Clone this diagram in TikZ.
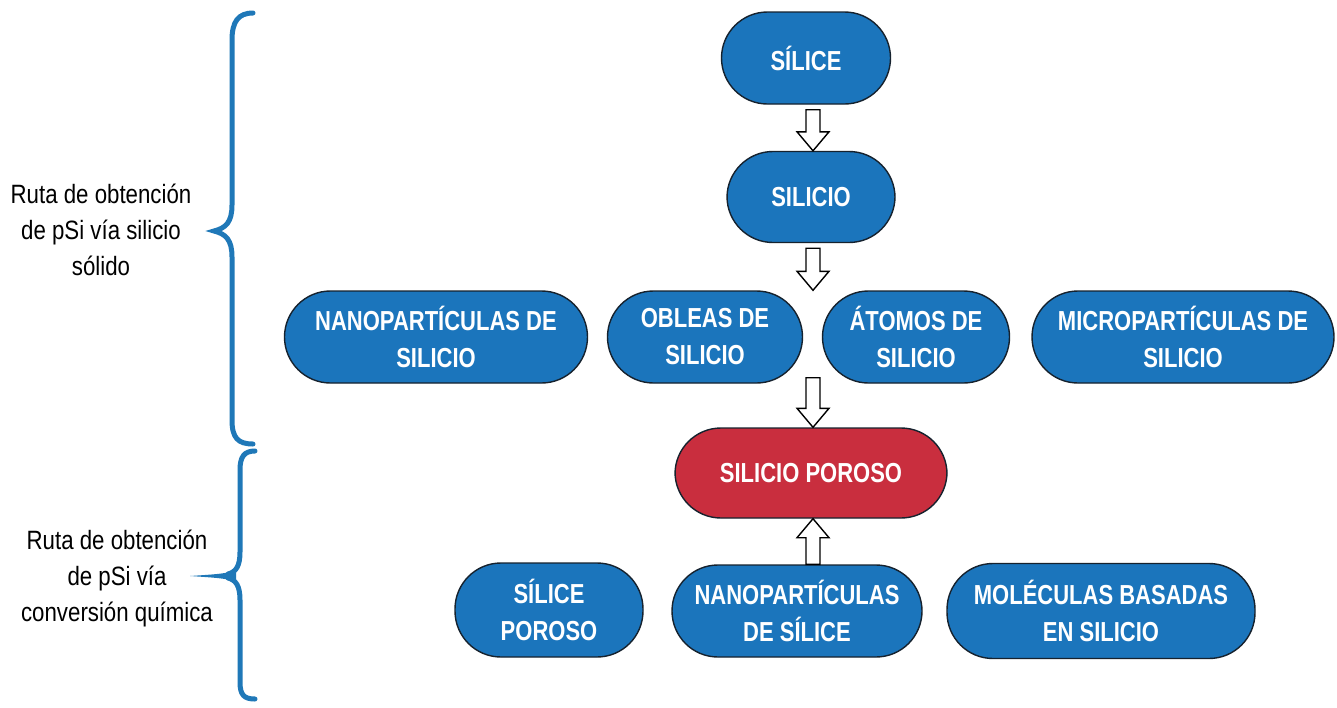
\documentclass[tikz,border=0pt]{standalone}
\usepackage{fontspec}
\setmainfont{Liberation Sans}
\newfontfamily\boxfont[FakeStretch=0.80]{Liberation Sans Bold}
\newfontfamily\sidefont[FakeStretch=0.84]{Liberation Sans}
\usetikzlibrary{calc}
\definecolor{boxblue}{HTML}{1B75BC}
\definecolor{boxred}{HTML}{C92E3E}
\definecolor{braceblue}{HTML}{1F78B8}
\definecolor{boxedge}{HTML}{16222E}
\tikzset{
  box/.style={draw=boxedge, line width=1.4pt, fill=boxblue, rounded corners=46pt,
    text=white, align=center, inner sep=0pt,
    font=\boxfont\fontsize{27.5}{37}\selectfont},
  redbox/.style={box, fill=boxred},
  barrow/.style={draw=black, fill=white, line width=1.4pt, line join=miter},
  brace/.style={draw=braceblue, line width=5pt, line cap=round},
  side/.style={align=center, text=black, inner sep=0pt,
    font=\sidefont\fontsize{26.5}{36}\selectfont}
}
\newcommand\barrowdown[2]{\draw[barrow] let \p1=(#1), \p2=(#2) in
  (\x1-7pt,\y1) -- (\x1+7pt,\y1) -- (\x1+7pt,\y2+19pt) -- (\x1+16pt,\y2+19pt)
  -- (\x1,\y2) -- (\x1-16pt,\y2+19pt) -- (\x1-7pt,\y2+19pt) -- cycle;}
\newcommand\barrowup[2]{\draw[barrow] let \p1=(#1), \p2=(#2) in
  (\x1-7pt,\y1) -- (\x1+7pt,\y1) -- (\x1+7pt,\y2-19pt) -- (\x1+16pt,\y2-19pt)
  -- (\x1,\y2) -- (\x1-16pt,\y2-19pt) -- (\x1-7pt,\y2-19pt) -- cycle;}
\begin{document}
\begin{tikzpicture}[x=1pt,y=-1pt]
\useasboundingbox (0,0) rectangle (1337,707);
\fill[white] (0,0) rectangle (1337,707);

% nodes
\node[box, minimum width=169, minimum height=92] (silice) at (806,58) {SÍLICE};
\node[box, minimum width=168, minimum height=91] (silicio) at (811,197) {SILICIO};
\node[box, minimum width=303, minimum height=92] (nanosi) at (436,337) {NANOPARTÍCULAS DE\\SILICIO};
\node[box, minimum width=195, minimum height=92] (obleas) at (705,337) {OBLEAS DE\\SILICIO};
\node[box, minimum width=187, minimum height=92] (atomos) at (916,337) {ÁTOMOS DE\\SILICIO};
\node[box, minimum width=302, minimum height=92] (micro) at (1183,337) {MICROPARTÍCULAS DE\\SILICIO};
\node[redbox, minimum width=272, minimum height=90] (poroso) at (811,473) {SILICIO POROSO};
\node[box, minimum width=188, minimum height=94] (sporoso) at (549,610) {SÍLICE\\POROSO};
\node[box, minimum width=250, minimum height=92] (nanosil) at (797,611) {NANOPARTÍCULAS\\DE SÍLICE};
\node[box, minimum width=308, minimum height=95] (molec) at (1101,611) {MOLÉCULAS BASADAS\\EN SILICIO};

% arrows
\coordinate (ax) at (813,0);
\coordinate (a1s) at ($(silice.south -| ax)+(0,5)$);
\coordinate (a2s) at ($(silicio.south -| ax)+(0,5)$);
\coordinate (a2t) at (obleas.north -| ax);
\coordinate (a3s) at ($(obleas.south -| ax)+(0,-6)$);
\barrowdown{a1s}{silicio.north -| ax}
\barrowdown{a2s}{a2t}
\barrowdown{a3s}{poroso.north -| ax}
\barrowup{nanosil.north -| ax}{poroso.south -| ax}

% braces
\draw[brace] (253,13) .. controls (238,13) and (232,22) .. (232,40) -- (232,205)
  .. controls (232,222) and (226,228) .. (214,231)
  .. controls (226,234) and (232,240) .. (232,257) -- (232,420)
  .. controls (232,438) and (238,444) .. (253,444);
\draw[brace] (255,451) .. controls (244,451) and (240,457) .. (240,470) -- (240,552)
  .. controls (240,566) and (236,572) .. (228,574);
\draw[brace] (228,578) .. controls (236,580) and (240,586) .. (240,600) -- (240,682)
  .. controls (240,695) and (244,699) .. (255,699);
\fill[braceblue] (236,571) .. controls (220,574) .. (190,576)
  .. controls (220,578) .. (236,581) -- cycle;

% side texts
\node[side] (t1) at (101,230) {Ruta de obtención\\de pSi vía silicio\\sólido};
\node[side] (t2) at (117,578) {Ruta de obtención\\de pSi vía\\conversión química};
\end{tikzpicture}
\end{document}
